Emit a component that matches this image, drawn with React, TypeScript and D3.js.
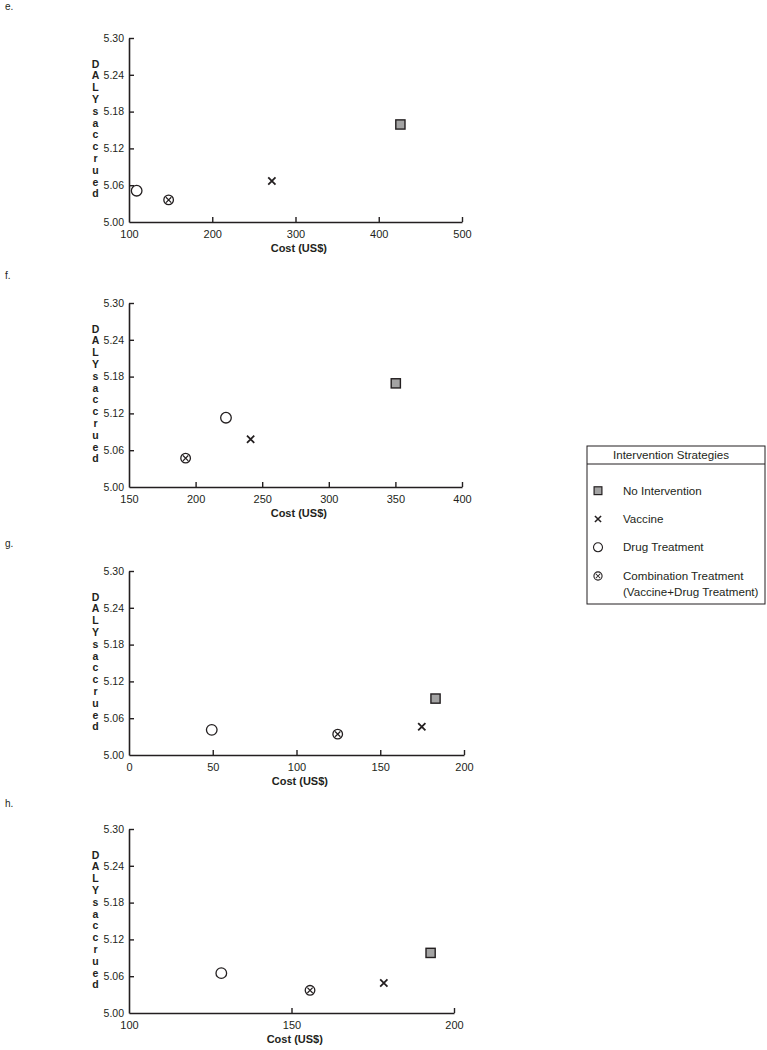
import { useEffect, useRef } from 'react';
import * as d3 from 'd3';

// data (e-h)
const panelNames = ['e.', 'f.', 'g.', 'h.'];
const xTickValues = [
  [100, 200, 300, 400, 500],
  [150, 200, 250, 300, 350, 400],
  [0, 50, 100, 150, 200],
  [100, 150, 200],
];
const yTickValues = [5.0, 5.06, 5.12, 5.18, 5.24, 5.3];
const strategies = ['No Intervention', 'Vaccine', 'Drug Treatment', 'Combination Treatment'];

// [cost, DALYs] for each panel
const noIntervention = [[426, 5.159], [350.3, 5.169], [183, 5.092], [192.8, 5.098]];
const vaccine = [[271.6, 5.067], [241.3, 5.078], [174.8, 5.046], [178.4, 5.049]];
const drugTreatment = [[109.2, 5.051], [222.8, 5.113], [49.4, 5.041], [128.4, 5.065]];
const combination = [[147.6, 5.036], [192.5, 5.047], [124.6, 5.034], [155.7, 5.037]];

const W = 767;
const H = 1050;
const FONT = '"Liberation Sans", Arial, sans-serif';
const INK = '#231f20';

// layout
const axisLeft = 129;
const panelTops = [38, 303, 571, 829];
const plotWidths = [333, 333, 335, 325];
const plotHeight = 184;
const nameTops = [10, 279, 547, 807];

const drawMarker = (
  g: d3.Selection<SVGGElement, unknown, null, undefined>,
  kind: number, x: number, y: number, s = 1,
) => {
  const m = g.append('g').attr('transform', `translate(${x},${y}) scale(${s})`);
  if (kind === 0) {
    m.append('rect').attr('x', -4.6).attr('y', -4.6).attr('width', 9.2).attr('height', 9.2)
      .attr('fill', '#a3a3a3').attr('stroke', INK).attr('stroke-width', 1.4);
  } else if (kind === 1) {
    m.append('path').attr('d', d3.symbol(d3.symbolX, 36)())
      .attr('fill', 'none').attr('stroke', INK).attr('stroke-width', 1.8);
  } else if (kind === 2) {
    m.append('circle').attr('r', 5.3).attr('fill', '#fff').attr('stroke', INK).attr('stroke-width', 1.3);
  } else {
    m.append('circle').attr('r', 4.8).attr('fill', '#fff').attr('stroke', INK).attr('stroke-width', 1.3);
    m.append('path').attr('d', d3.symbol(d3.symbolX, 20)())
      .attr('fill', 'none').attr('stroke', INK).attr('stroke-width', 1.2);
  }
};

export default function App() {
  const ref = useRef<SVGSVGElement | null>(null);

  useEffect(() => {
    document.body.style.margin = '0';
    const svg = d3.select(ref.current);
    svg.selectAll('*').remove();
    svg.append('rect').attr('width', W).attr('height', H).attr('fill', '#fff');

    const series = [noIntervention, vaccine, drugTreatment, combination];

    panelNames.forEach((name, i) => {
      const top = panelTops[i];
      const ticks = xTickValues[i];
      const x = d3.scaleLinear().domain([ticks[0], ticks[ticks.length - 1]]).range([0, plotWidths[i]]);
      const y = d3.scaleLinear().domain([5.0, 5.3]).range([plotHeight, 0]);

      svg.append('text').attr('x', 5).attr('y', nameTops[i])
        .attr('font-family', FONT).attr('font-size', 10).attr('fill', INK).text(name);

      const g = svg.append('g').attr('transform', `translate(${axisLeft},${top})`);

      const xAxis = g.append('g').attr('transform', `translate(0,${plotHeight})`)
        .call(d3.axisBottom(x).tickValues(ticks).tickSizeInner(-5).tickSizeOuter(0).tickPadding(6)
          .tickFormat(d3.format('d')));
      xAxis.selectAll('text').attr('dy', '0.9em');

      const yAxis = g.append('g')
        .call(d3.axisLeft(y).tickValues(yTickValues).tickSizeInner(-5).tickSizeOuter(0).tickPadding(5)
          .tickFormat(d3.format('.2f')));

      [xAxis, yAxis].forEach(a => {
        a.select('.domain').attr('stroke', INK).attr('stroke-width', 1.6);
        a.selectAll('.tick line').attr('stroke', INK).attr('stroke-width', 1.4);
        a.selectAll('text').attr('font-family', FONT).attr('font-size', 11).attr('fill', INK);
      });
      yAxis.selectAll('text').attr('font-size', 10.5);
      xAxis.selectAll('.tick').filter((d, k) => k === 0).select('line').remove();
      yAxis.selectAll('.tick').filter((d, k) => k === 0).select('line').remove();

      // x title
      g.append('text').attr('x', plotWidths[i] * 0.51).attr('y', plotHeight + 30)
        .attr('text-anchor', 'middle').attr('font-family', FONT).attr('font-size', 11)
        .attr('font-weight', 'bold').attr('fill', INK).text('Cost (US$)');

      // stacked y title
      const letters = 'DALYs accrued'.split('').filter(c => c !== ' ');
      const yt = g.append('text').attr('text-anchor', 'middle').attr('font-family', FONT)
        .attr('font-size', 10.5).attr('font-weight', 'bold').attr('fill', INK);
      letters.forEach((c, k) => {
        yt.append('tspan').attr('x', -33.5).attr('y', 29.5 + k * 11.8).text(c);
      });

      series.forEach((s, k) => {
        const [cx, cy] = s[i];
        drawMarker(g, k, x(cx), y(cy));
      });
    });

    // legend
    const lg = svg.append('g').attr('transform', 'translate(587,446)');
    lg.append('rect').attr('width', 178).attr('height', 158).attr('fill', '#fff')
      .attr('stroke', INK).attr('stroke-width', 1);
    lg.append('line').attr('x1', 0).attr('x2', 178).attr('y1', 18).attr('y2', 18)
      .attr('stroke', INK).attr('stroke-width', 1);
    lg.append('text').attr('x', 84).attr('y', 13.3).attr('text-anchor', 'middle')
      .attr('font-family', FONT).attr('font-size', 11.6).attr('fill', INK).text('Intervention Strategies');
    const rowY = [44.7, 73, 101.3, 130];
    strategies.forEach((s, k) => {
      const mk = lg.append('g');
      drawMarker(mk, k, 11, rowY[k], 0.85);
      lg.append('text').attr('x', 36).attr('y', rowY[k] + 4).attr('font-family', FONT)
        .attr('font-size', 11.6).attr('fill', INK).text(s);
    });
    lg.append('text').attr('x', 36).attr('y', rowY[3] + 19.5).attr('font-family', FONT)
      .attr('font-size', 11.6).attr('fill', INK).text('(Vaccine+Drug Treatment)');
  }, []);

  return <svg ref={ref} width={W} height={H} style={{ display: 'block' }}></svg>;
}
